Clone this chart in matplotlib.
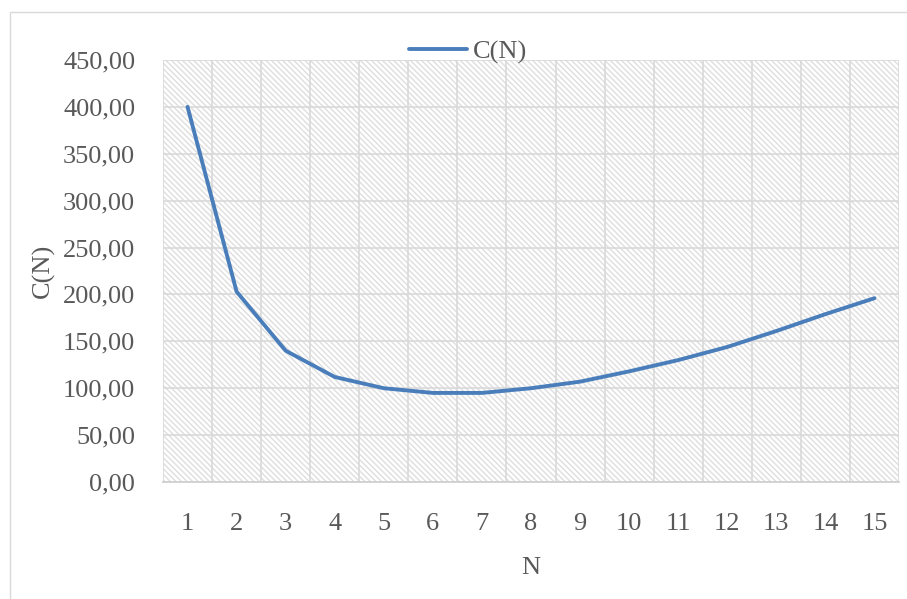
import matplotlib
matplotlib.use("Agg")
import matplotlib.pyplot as plt
from matplotlib.patches import Rectangle
import matplotlib as mpl

categories = [str(i) for i in range(1, 16)]
values = [400, 203, 140, 112, 100, 95, 95, 100, 107, 118, 130, 144, 161, 179, 196]
yticks = [0, 50, 100, 150, 200, 250, 300, 350, 400, 450]
ytick_labels = [f"{v},00" for v in yticks]

plt.rcParams['font.family'] = ['Liberation Serif', 'DejaVu Serif']
mpl.rcParams['hatch.color'] = '#dedede'
mpl.rcParams['hatch.linewidth'] = 1.0

W, H = 907, 599
fig = plt.figure(figsize=(W / 100, H / 100), dpi=100)
# outer chart border
fig.add_artist(Rectangle((10 / W, -0.1), 1.2, 1 - 12 / H + 0.1, transform=fig.transFigure,
                         fill=False, edgecolor='#d9d9d9', linewidth=1))

ax = fig.add_axes([163 / W, (H - 482) / H, (899 - 163) / W, (482 - 60) / H])
ax.add_patch(Rectangle((0, 0), 1, 1, transform=ax.transAxes, facecolor='white',
                       hatch='\\\\\\\\\\\\', edgecolor='#dedede', linewidth=0, zorder=0))

x = list(range(len(categories)))
line, = ax.plot(x, values, color='#4a7ebb', linewidth=2.8, solid_capstyle='round', zorder=3, label='C(N)')

ax.set_xlim(-0.5, len(categories) - 0.5)
ax.set_ylim(0, 450)
ax.set_yticks(yticks)
ax.set_yticklabels(ytick_labels)
ax.set_xticks(x)
ax.set_xticklabels(categories)
ax.set_xticks([i - 0.5 for i in range(len(categories) + 1)], minor=True)

ax.grid(True, which='major', axis='y', color='#d9d9d9', linewidth=1.2)
ax.grid(True, which='minor', axis='x', color='#d9d9d9', linewidth=1.2)
ax.set_axisbelow(True)
for s in ['top', 'right', 'left']:
    ax.spines[s].set_visible(False)
ax.spines['bottom'].set_color('#d0d0d0')
ax.spines['bottom'].set_linewidth(1.3)
ax.tick_params(axis='both', which='both', length=0, labelsize=19, colors='#595959')
ax.tick_params(axis='x', pad=22)
ax.tick_params(axis='y', pad=20)

ax.set_xlabel('N', fontsize=19, color='#595959', labelpad=16)
ax.set_ylabel('C(N)', fontsize=19, color='#595959', labelpad=6)

fig.legend(handles=[line], loc='center', bbox_to_anchor=(468 / W, 1 - 52 / H), frameon=False,
           fontsize=19, labelcolor='#595959', handlelength=2.2, handletextpad=0.25)

fig.savefig('out.png', dpi=100)
